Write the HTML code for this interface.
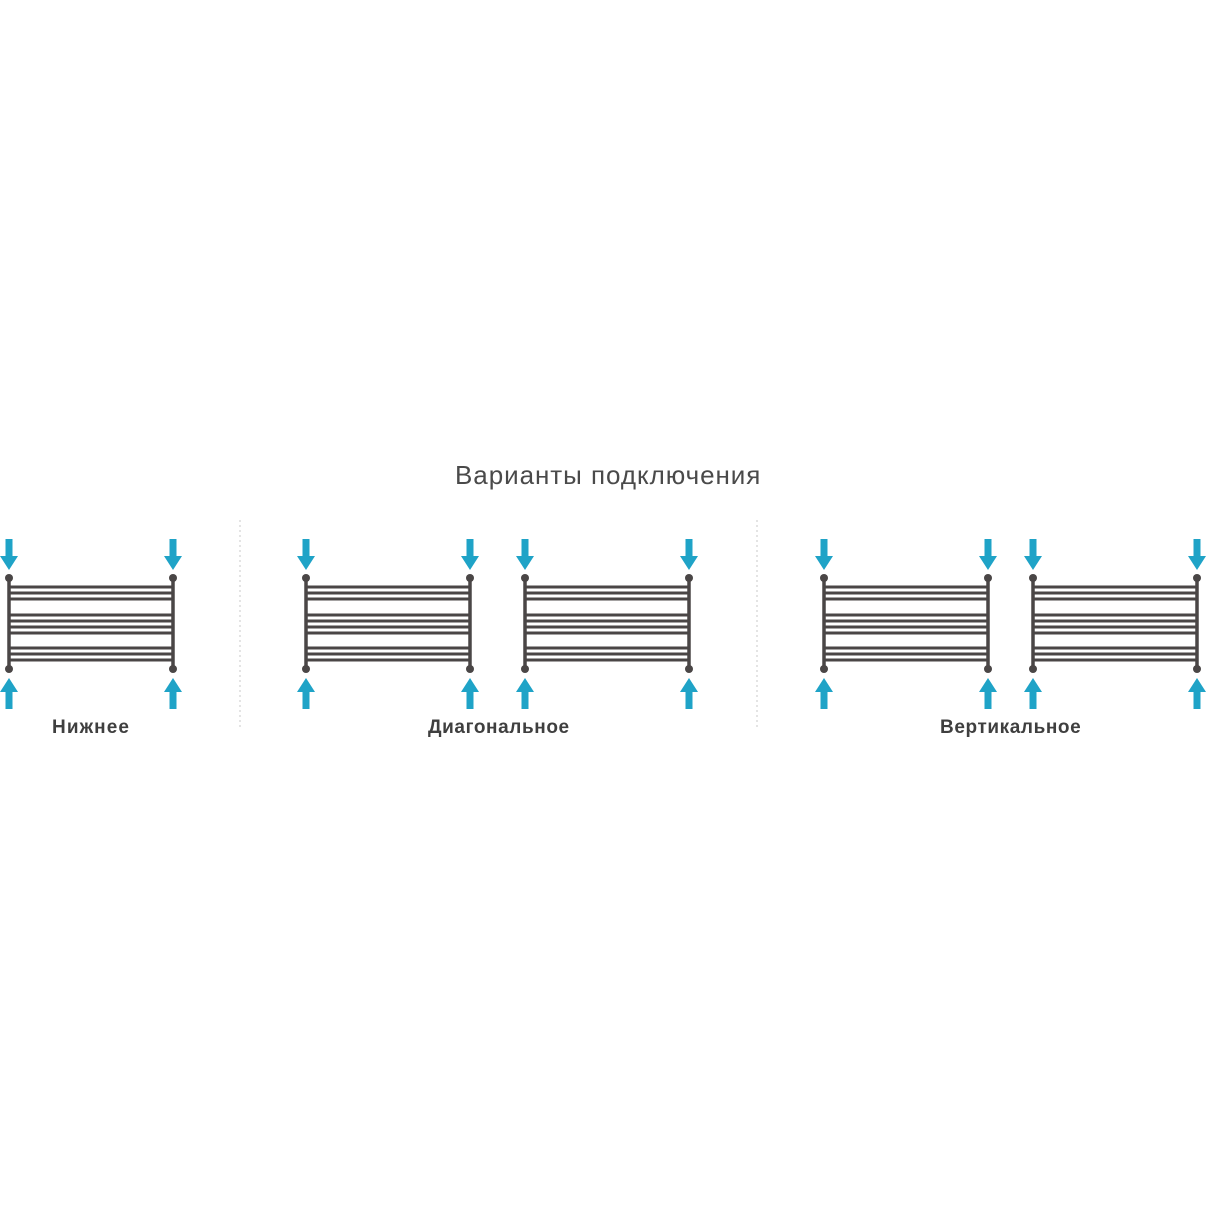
<!DOCTYPE html>
<html><head><meta charset="utf-8"><style>
html,body{margin:0;padding:0;background:#fff;}
body{width:1207px;height:1207px;position:relative;overflow:hidden;font-family:"Liberation Sans","DejaVu Sans",sans-serif;}
.t{position:absolute;color:#4a4a4a;white-space:nowrap;}
.l{font-size:19px;font-weight:bold;color:#3f3f3f;letter-spacing:0.6px;top:717px;}
</style></head><body>
<div class="t" style="left:455px;top:460px;font-size:26px;letter-spacing:0.95px;">Варианты подключения</div>
<div class="t l" style="left:52px;letter-spacing:1.1px;">Нижнее</div>
<div class="t l" style="left:428px;">Диагональное</div>
<div class="t l" style="left:940px;">Вертикальное</div>
<svg width="1207" height="1207" style="position:absolute;left:0;top:0">
<defs>
<g id="r">
  <g stroke="#4a4646" stroke-width="3.5">
    <line x1="0" y1="578" x2="0" y2="669"/>
    <line x1="164" y1="578" x2="164" y2="669"/>
  </g>
  <g stroke="#4a4646" stroke-width="3">
    <line x1="0" y1="587" x2="164" y2="587"/>
    <line x1="0" y1="593" x2="164" y2="593"/>
    <line x1="0" y1="599" x2="164" y2="599"/>
    <line x1="0" y1="615" x2="164" y2="615"/>
    <line x1="0" y1="621" x2="164" y2="621"/>
    <line x1="0" y1="627" x2="164" y2="627"/>
    <line x1="0" y1="633" x2="164" y2="633"/>
    <line x1="0" y1="648" x2="164" y2="648"/>
    <line x1="0" y1="654" x2="164" y2="654"/>
    <line x1="0" y1="660" x2="164" y2="660"/>
  </g>
  <g fill="#4a4646">
    <circle cx="0" cy="578" r="4"/><circle cx="164" cy="578" r="4"/>
    <circle cx="0" cy="669" r="4"/><circle cx="164" cy="669" r="4"/>
  </g>
  <g fill="#1fa3c7">
    <path d="M-3.5 539H3.5V556H9L0 570L-9 556H-3.5Z"/>
    <path d="M160.5 539H167.5V556H173L164 570L155 556H160.5Z"/>
    <path d="M-3.5 709H3.5V692H9L0 678L-9 692H-3.5Z"/>
    <path d="M160.5 709H167.5V692H173L164 678L155 692H160.5Z"/>
  </g>
</g>
</defs>
<use href="#r" x="9"/>
<use href="#r" x="306"/>
<use href="#r" x="525"/>
<use href="#r" x="824"/>
<use href="#r" x="1033"/>
<g stroke="#c8c8c8" stroke-width="1" stroke-dasharray="2,3">
<line x1="240" y1="520" x2="240" y2="728"/>
<line x1="757" y1="520" x2="757" y2="728"/>
</g>
</svg>
</body></html>
